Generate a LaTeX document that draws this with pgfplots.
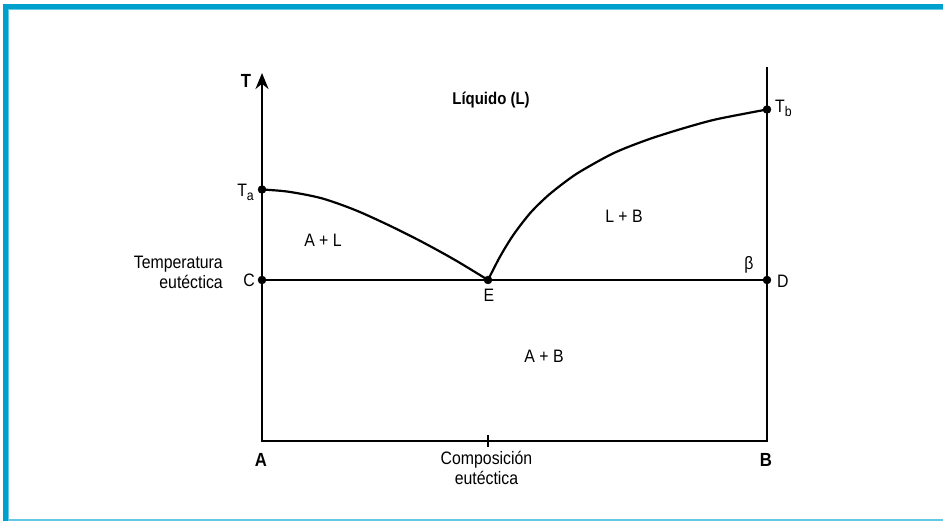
\documentclass[border=0pt]{standalone}
\usepackage{pgfplots}
\pgfplotsset{compat=1.18}
\usepackage{fontspec}
\setmainfont{Liberation Sans}[FakeStretch=0.88]
\usetikzlibrary{arrows.meta}
\definecolor{frame}{RGB}{0,160,204}
\definecolor{framelight}{RGB}{100,200,230}
\tikzset{lbl/.style={font=\fontsize{18}{20}\selectfont, inner sep=0pt},
  blbl/.style={font=\fontsize{19}{20}\selectfont\bfseries, inner sep=0pt}}
\newcommand{\sub}[1]{\raisebox{-4pt}{\fontsize{14}{14}\selectfont #1}}
\begin{document}
\begin{tikzpicture}
\path[use as bounding box] (0,0) rectangle (943pt,521pt);
\fill[frame] (3pt,512pt) rectangle (943pt,517pt);
\fill[frame] (3pt,0pt) rectangle (7.5pt,517pt);
\fill[framelight] (7.5pt,0pt) rectangle (8.5pt,512pt);
\fill[framelight] (7.5pt,511pt) rectangle (943pt,512pt);
\fill[framelight] (7.5pt,0pt) rectangle (943pt,2pt);
\begin{axis}[
  at={(262pt,80pt)}, anchor=origin,
  x=1pt, y=1pt,
  xmin=-262, xmax=681, ymin=-80, ymax=441,
  hide axis, clip=false,
]
% frame of diagram
\addplot[line width=2.6pt, line join=miter, {Stealth[length=16pt,width=13pt]}-] coordinates {(0,368) (0,0) (505,0) (505,374)};
% eutectic line
\addplot[line width=2.2pt] coordinates {(0,161) (505,161)};
% tick
\addplot[line width=2pt] coordinates {(226,-6) (226,6)};
% liquidus A side
\addplot[line width=2.2pt, smooth] coordinates {(0,251.5) (26.3,249.3) (59.7,242.7) (93,231) (126.3,216) (159.7,199.3) (193,181) (226,161)};
% liquidus B side
\addplot[line width=2.2pt, smooth] coordinates {(226,161) (238,184.3) (251.3,206) (268,227.7) (284.7,244.3) (301.3,257.7) (318,269.3) (351.3,287.7) (384.7,301) (418,311.7) (451.3,321) (484.7,327.7) (505,331.5)};
% points
\addplot[only marks, mark=*, mark size=4pt, black] coordinates {(0,251.5) (0,161) (226,161) (505,161) (505,331.5)};
% labels
\node[blbl, anchor=base] at (-16,353) {T};
\node[lbl, anchor=base, font=\fontsize{17}{20}\selectfont\bfseries] at (229,336) {Líquido (L)};
\node[lbl, anchor=base east] at (-8,244) {T\sub{a}};
\node[lbl, anchor=base west] at (513,328) {T\sub{b}};
\node[lbl, anchor=base] at (61,194) {A + L};
\node[lbl, anchor=base] at (362,218) {L + B};
\node[lbl, anchor=base] at (282,78) {A + B};
\node[lbl, anchor=base east] at (-39,172.7) {Temperatura};
\node[lbl, anchor=base east] at (-39,152.7) {eutéctica};
\node[lbl, anchor=base east] at (-7,154.5) {C};
\node[lbl, anchor=base] at (227,139.5) {E};
\node[lbl, anchor=base] at (487,171) {β};
\node[lbl, anchor=base west] at (515,153) {D};
\node[blbl, anchor=base] at (-1,-26) {A};
\node[blbl, anchor=base] at (504,-26) {B};
\node[lbl, anchor=base] at (224.5,-24) {Composición};
\node[lbl, anchor=base] at (224.5,-44) {eutéctica};
\end{axis}
\end{tikzpicture}
\end{document}
